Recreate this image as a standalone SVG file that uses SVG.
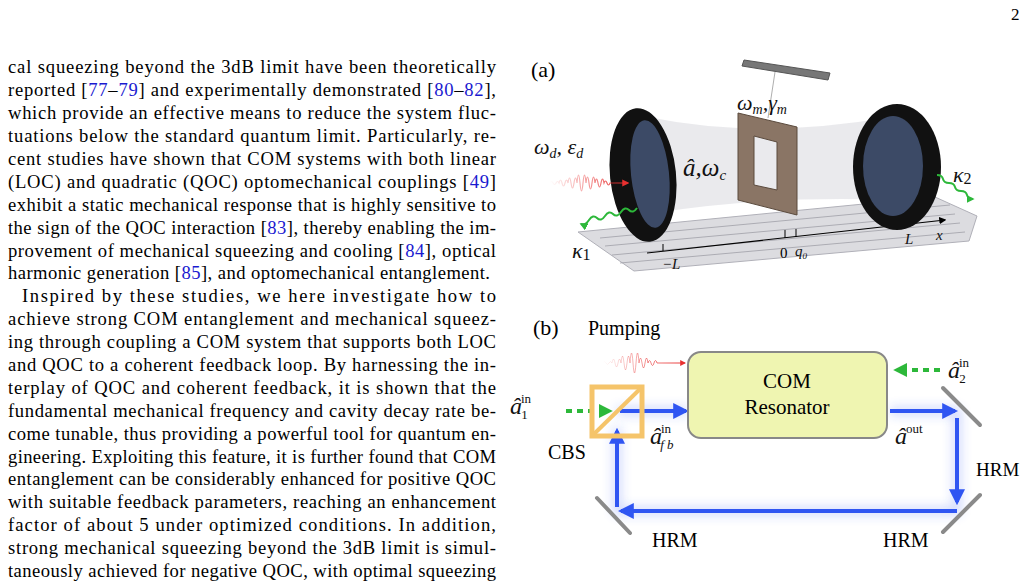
<svg xmlns="http://www.w3.org/2000/svg" width="1028" height="581" viewBox="0 0 1028 581">
<style>
.t{font-family:"Liberation Serif",serif;font-size:18.6px;fill:#000}
.c{fill:#1a1ad0}
.f{font-family:"Liberation Serif",serif;fill:#000}
.m{font-family:"Liberation Serif",serif;font-style:italic;fill:#111}
.blue{stroke:#2f55f2;stroke-width:4;fill:none}
.hrm{stroke:#8a8a8a;stroke-width:4;stroke-linecap:round}
</style>
<defs>
<marker id="ab" viewBox="0 0 10 10" refX="8" refY="5" markerWidth="4" markerHeight="4" orient="auto"><path d="M0,0L10,5L0,10z" fill="#2f55f2"/></marker>
<marker id="ag" viewBox="0 0 10 10" refX="8" refY="5" markerWidth="3.5" markerHeight="3.5" orient="auto"><path d="M0,0L10,5L0,10z" fill="#2db83a"/></marker>
<marker id="ag2" viewBox="0 0 10 10" refX="8" refY="5" markerWidth="4" markerHeight="4" orient="auto"><path d="M0,0L10,5L0,10z" fill="#2db83a"/></marker>
<marker id="ar" viewBox="0 0 10 10" refX="8" refY="5" markerWidth="6" markerHeight="6" orient="auto"><path d="M0,0L10,5L0,10z" fill="#e83030"/></marker>
<marker id="ak" viewBox="0 0 10 10" refX="8" refY="5" markerWidth="6" markerHeight="6" orient="auto"><path d="M0,0L10,5L0,10z" fill="#000"/></marker>
<filter id="glow" x="-20%" y="-20%" width="140%" height="140%"><feGaussianBlur stdDeviation="6"/></filter>
<linearGradient id="rw" x1="0" x2="1"><stop offset="0" stop-color="#e83030" stop-opacity="0"/><stop offset="1" stop-color="#e83030"/></linearGradient>
</defs>
<rect width="1028" height="581" fill="#fff"/>
<text class="f" x="1011" y="20" font-size="17">2</text>
<g id="body">
<text class="t" x="8" y="73" textLength="488" lengthAdjust="spacing">cal squeezing beyond the 3dB limit have been theoretically</text>
<text class="t" x="8" y="96" textLength="488" lengthAdjust="spacing">reported [<tspan class="c">77</tspan>–<tspan class="c">79</tspan>] and experimentally demonstrated [<tspan class="c">80</tspan>–<tspan class="c">82</tspan>],</text>
<text class="t" x="8" y="119" textLength="488" lengthAdjust="spacing">which provide an effective means to reduce the system fluc-</text>
<text class="t" x="8" y="142" textLength="488" lengthAdjust="spacing">tuations below the standard quantum limit. Particularly, re-</text>
<text class="t" x="8" y="165" textLength="488" lengthAdjust="spacing">cent studies have shown that COM systems with both linear</text>
<text class="t" x="8" y="188" textLength="488" lengthAdjust="spacing">(LOC) and quadratic (QOC) optomechanical couplings [<tspan class="c">49</tspan>]</text>
<text class="t" x="8" y="211" textLength="488" lengthAdjust="spacing">exhibit a static mechanical response that is highly sensitive to</text>
<text class="t" x="8" y="234" textLength="488" lengthAdjust="spacing">the sign of the QOC interaction [<tspan class="c">83</tspan>], thereby enabling the im-</text>
<text class="t" x="8" y="257" textLength="488" lengthAdjust="spacing">provement of mechanical squeezing and cooling [<tspan class="c">84</tspan>], optical</text>
<text class="t" x="8" y="279" textLength="482" lengthAdjust="spacing">harmonic generation [<tspan class="c">85</tspan>], and optomechanical entanglement.</text>
<text class="t" x="22" y="302" textLength="474" lengthAdjust="spacing">Inspired by these studies, we here investigate how to</text>
<text class="t" x="8" y="325" textLength="488" lengthAdjust="spacing">achieve strong COM entanglement and mechanical squeez-</text>
<text class="t" x="8" y="348" textLength="488" lengthAdjust="spacing">ing through coupling a COM system that supports both LOC</text>
<text class="t" x="8" y="371" textLength="488" lengthAdjust="spacing">and QOC to a coherent feedback loop. By harnessing the in-</text>
<text class="t" x="8" y="394" textLength="488" lengthAdjust="spacing">terplay of QOC and coherent feedback, it is shown that the</text>
<text class="t" x="8" y="417" textLength="488" lengthAdjust="spacing">fundamental mechanical frequency and cavity decay rate be-</text>
<text class="t" x="8" y="440" textLength="488" lengthAdjust="spacing">come tunable, thus providing a powerful tool for quantum en-</text>
<text class="t" x="8" y="463" textLength="488" lengthAdjust="spacing">gineering. Exploiting this feature, it is further found that COM</text>
<text class="t" x="8" y="485" textLength="488" lengthAdjust="spacing">entanglement can be considerably enhanced for positive QOC</text>
<text class="t" x="8" y="508" textLength="488" lengthAdjust="spacing">with suitable feedback parameters, reaching an enhancement</text>
<text class="t" x="8" y="531" textLength="488" lengthAdjust="spacing">factor of about 5 under optimized conditions. In addition,</text>
<text class="t" x="8" y="554" textLength="488" lengthAdjust="spacing">strong mechanical squeezing beyond the 3dB limit is simul-</text>
<text class="t" x="8" y="577" textLength="488" lengthAdjust="spacing">taneously achieved for negative QOC, with optimal squeezing</text>
</g>
<g id="panel-a">
<text class="f" x="531" y="77" font-size="22">(a)</text>
<polygon points="578,232 935,197 977,216 969,241 634,271" fill="#dcdce0" stroke="#b0b0b8"/>
<g stroke="#a0a0a8" stroke-width="1" fill="none" opacity="0.8">
<path d="M600,238 L950,205"/><path d="M605,246 L955,214"/><path d="M612,255 L960,223"/><path d="M620,263 L965,232"/>
</g>
<path d="M648,117 Q760,140 890,117 L895,200 Q770,195 655,213 Z" fill="#e6e6ea" opacity="0.85"/>
<line x1="647" y1="253" x2="945" y2="220" stroke="#000" stroke-width="1.2" marker-end="url(#ak)"/>
<g stroke="#000" stroke-width="1"><line x1="663" y1="251" x2="663" y2="244"/><line x1="785" y1="238" x2="785" y2="230"/><line x1="796" y1="237" x2="796" y2="229"/><line x1="907" y1="224" x2="907" y2="216"/></g>
<text class="m" x="662" y="269" font-size="15">−L</text>
<text class="f" x="780" y="258" font-size="15">0</text>
<text class="m" x="795" y="256" font-size="15">q<tspan font-size="9" dy="3">0</tspan></text>
<text class="m" x="905" y="244" font-size="15">L</text>
<text class="m" x="936" y="240" font-size="15">x</text>
<line x1="775" y1="72" x2="768" y2="118" stroke="#999" stroke-width="0.8"/>
<polygon points="744,60 830,73 828,80 742,66" fill="#777" stroke="#555"/>
<path d="M738,113 L797,127 L797,215 L738,200 Z M754,136 L777,142 L777,190 L754,185 Z" fill="#8a7565" fill-rule="evenodd" stroke="#5a4a3d"/>
<ellipse cx="643" cy="175" rx="33" ry="67" transform="rotate(-6 643 175)" fill="#111"/>
<ellipse cx="650" cy="174" rx="19" ry="54" transform="rotate(-6 650 174)" fill="#3c4a66"/>
<ellipse cx="897" cy="167" rx="44" ry="63" fill="#111"/>
<ellipse cx="893" cy="166" rx="30" ry="50" fill="#3c4a66"/>
<path d="M550,183 q1.5,-3 3,0 t3,0 t3,0 q1.5,-6 3,0 t3,0 t3,0 q1.5,-10 3,0 t3,0 t3,0 q1.5,-16 3,0 t3,0 t3,0 q1.5,-12 3,0 t3,0 t3,0 q1.5,-8 3,0 t3,0 t3,0 q1.5,-4 3,0 t3,0 L628,183" fill="none" stroke="url(#rw)" stroke-width="1.2" marker-end="url(#ar)"/>
<path d="M637,208 q-4,6 -8,2 t-8,2 t-8,2 t-8,2 t-8,2 t-8,2 t-8,4" fill="none" stroke="#2db83a" stroke-width="2" marker-end="url(#ag2)"/>
<path d="M937,175 q5,0 6,4 t6,4 t6,4 t6,4 t6,4 t6,4" fill="none" stroke="#2db83a" stroke-width="2" marker-end="url(#ag2)"/>
<text class="m" x="737" y="110" font-size="22">ω<tspan font-size="14" dy="4">m</tspan><tspan dy="-4">,γ</tspan><tspan font-size="14" dy="4">m</tspan></text>
<text class="m" x="683" y="176" font-size="25">â,ω<tspan font-size="15" dy="4">c</tspan></text>
<text class="m" x="534" y="154" font-size="22">ω<tspan font-size="14" dy="4">d</tspan><tspan dy="-4">, ε</tspan><tspan font-size="14" dy="4">d</tspan></text>
<text class="m" x="953" y="182" font-size="22">κ<tspan font-size="16" dy="2" font-style="normal">2</tspan></text>
<text class="m" x="572" y="258" font-size="22">κ<tspan font-size="16" dy="2" font-style="normal">1</tspan></text>
</g>
<g id="panel-b">
<text class="f" x="533" y="335" font-size="22">(b)</text>
<text class="f" x="588" y="335" font-size="20">Pumping</text>
<path d="M603,363 q1.5,-3 3,0 t3,0 t3,0 q1.5,-8 3,0 t3,0 t3,0 q1.5,-14 3,0 t3,0 t3,0 q1.5,-20 3,0 t3,0 t3,0 q1.5,-10 3,0 t3,0 t3,0 q1.5,-5 3,0 t3,0 t3,0 L685,363" fill="none" stroke="url(#rw)" stroke-width="1" marker-end="url(#ar)"/>
<g filter="url(#glow)" opacity="0.5"><path class="blue" d="M617,411 H688 M890,411 H957 V511 H617 V428" stroke-width="10"/></g>
<g id="connectors">
<line class="blue" x1="620" y1="411" x2="686" y2="411" marker-end="url(#ab)"/>
<line class="blue" x1="890" y1="411" x2="955" y2="411" marker-end="url(#ab)"/>
<line class="blue" x1="957" y1="418" x2="957" y2="502" marker-end="url(#ab)"/>
<line class="blue" x1="957" y1="511" x2="621" y2="511" marker-end="url(#ab)"/>
<line class="blue" x1="617" y1="507" x2="617" y2="431" marker-end="url(#ab)"/>
<line x1="566" y1="411" x2="610" y2="411" stroke="#2db83a" stroke-width="4" stroke-dasharray="6,5" marker-end="url(#ag)"/>
<line x1="940" y1="370" x2="896" y2="370" stroke="#2db83a" stroke-width="4" stroke-dasharray="6,5" marker-end="url(#ag)"/>
</g>
<g id="com"><rect x="688" y="352" width="199" height="86" rx="13" fill="#eff5b1" stroke="#888" stroke-width="2"/>
<text class="f" x="787" y="388" font-size="21" text-anchor="middle">COM</text>
<text class="f" x="787" y="414" font-size="21" text-anchor="middle">Resonator</text></g>
<g id="cbs"><rect x="592" y="387" width="50" height="49" fill="none" stroke="#f5c46a" stroke-width="5"/><line x1="594" y1="434" x2="640" y2="389" stroke="#f5c46a" stroke-width="4"/></g>
<g id="hrm1"><line class="hrm" x1="943" y1="388" x2="980" y2="425"/></g>
<g id="hrm2"><line class="hrm" x1="943" y1="532" x2="980" y2="495"/></g>
<g id="hrm3"><line class="hrm" x1="597" y1="498" x2="630" y2="533"/></g>
<text class="f" x="976" y="476" font-size="19">HRM</text>
<text class="f" x="883" y="547" font-size="20">HRM</text>
<text class="f" x="652" y="547" font-size="20">HRM</text>
<text class="f" x="548" y="459" font-size="20">CBS</text>
<text class="m" x="510" y="414" font-size="24">â<tspan font-size="13" font-style="normal" dx="-1" dy="-11">in</tspan><tspan font-size="13" font-style="normal" dx="-10" dy="16">1</tspan></text>
<text class="m" x="948" y="378" font-size="24">â<tspan font-size="13" font-style="normal" dx="-1" dy="-11">in</tspan><tspan font-size="13" font-style="normal" dx="-10" dy="16">2</tspan></text>
<text class="m" x="650" y="444" font-size="24">â<tspan font-size="13" font-style="normal" dx="-1" dy="-11">in</tspan><tspan font-size="13" dx="-11" dy="16">f b</tspan></text>
<text class="m" x="895" y="444" font-size="24">â<tspan font-size="13" font-style="normal" dx="-1" dy="-11">out</tspan></text>
</g>
</svg>
